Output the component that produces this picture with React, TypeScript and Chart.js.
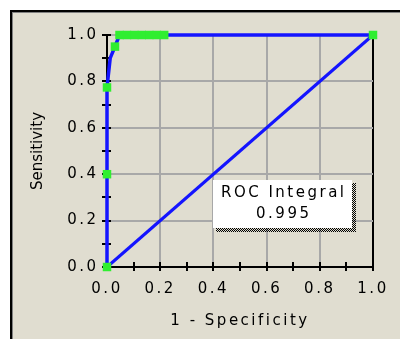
import { useEffect, useRef } from 'react';
import { Chart, registerables } from 'chart.js';

Chart.register(...registerables);

// ROC curve (1 - specificity, sensitivity)
const rocFpr = [0, 0, 0, 0.012, 0.03, 0.047, 0.075, 0.103, 0.131, 0.159, 0.187, 0.215, 1.0];
const rocTpr = [0, 0.4, 0.774, 0.9, 0.95, 1, 1, 1, 1, 1, 1, 1, 1];
const rocMarker = [1, 1, 1, 0, 1, 1, 1, 1, 1, 1, 1, 1, 1];
// chance diagonal
const diagX = [0, 1];
const diagY = [0, 1];
// axis ticks
const axisTicks = [0, 0.2, 0.4, 0.6, 0.8, 1.0];
const minorTicks = [0, 0.1, 0.2, 0.3, 0.4, 0.5, 0.6, 0.7, 0.8, 0.9, 1.0];
const xTitle = '1 - Specificity';
const yTitle = 'Sensitivity';
const rocLabelLines = ['ROC Integral', '0.995'];

const FONT = '"DejaVu Sans", Verdana, sans-serif';
const BEIGE = '#e0ddd0';
const BLUE = '#1414ff';
const GREEN = '#30ee30';
const GRID = '#a8a8a8';

const framePlugin = {
  id: 'frame',
  beforeDraw(chart: any) {
    const { ctx, width, height } = chart;
    ctx.save();
    ctx.fillStyle = '#ffffff';
    ctx.fillRect(0, 0, width, height);
    ctx.fillStyle = BEIGE;
    ctx.fillRect(10, 10, width - 10, height - 10);
    ctx.fillStyle = '#000000';
    ctx.fillRect(10, 10, 2, height - 10);
    ctx.fillRect(10, 10, width - 10, 2);
    ctx.fillStyle = '#808080';
    ctx.fillRect(12, 12, 1, height - 12);
    ctx.fillRect(12, 12, width - 12, 1);
    ctx.restore();
    ctx.letterSpacing = '2.5px';
  },
  beforeDatasetsDraw(chart: any) {
    const { ctx } = chart;
    const xs = chart.scales.x;
    const ys = chart.scales.y;
    const x0 = xs.getPixelForValue(0);
    const y0 = ys.getPixelForValue(0);
    ctx.save();
    ctx.fillStyle = '#000000';
    for (const v of minorTicks) {
      const px = Math.round(xs.getPixelForValue(v));
      ctx.fillRect(px - 1, y0 - 5, 2, 9);
      const py = Math.round(ys.getPixelForValue(v));
      ctx.fillRect(x0 - 5, py - 1, 9, 2);
    }
    ctx.restore();
  },
  afterDraw(chart: any) {
    const { ctx } = chart;
    const xs = chart.scales.x;
    const ys = chart.scales.y;
    const area = chart.chartArea;
    ctx.save();
    // y-axis title (rotated)
    ctx.letterSpacing = '0px';
    ctx.fillStyle = '#000000';
    ctx.font = `15px ${FONT}`;
    ctx.textAlign = 'center';
    ctx.textBaseline = 'middle';
    ctx.translate(38, (area.top + area.bottom) / 2);
    ctx.rotate(-Math.PI / 2);
    ctx.fillText(yTitle, 0, 0);
    ctx.restore();

    // ROC integral box
    const bx0 = Math.round(xs.getPixelForValue(0.4));
    const bx1 = Math.round(xs.getPixelForValue(0.92));
    const by0 = Math.round(ys.getPixelForValue(0.375));
    const by1 = Math.round(ys.getPixelForValue(0.168));
    ctx.save();
    // dotted shadow
    ctx.fillStyle = '#000000';
    for (let yy = by0 + 3; yy < by1 + 4; yy++) {
      for (let xx = bx1; xx < bx1 + 4; xx++) {
        if ((xx + yy) % 2 === 0) ctx.fillRect(xx, yy, 1, 1);
      }
    }
    for (let yy = by1; yy < by1 + 4; yy++) {
      for (let xx = bx0 + 3; xx < bx1; xx++) {
        if ((xx + yy) % 2 === 0) ctx.fillRect(xx, yy, 1, 1);
      }
    }
    ctx.fillStyle = '#ffffff';
    ctx.fillRect(bx0, by0, bx1 - bx0, by1 - by0);
    ctx.fillStyle = '#000000';
    ctx.font = `15px ${FONT}`;
    ctx.letterSpacing = '2.5px';
    ctx.textAlign = 'center';
    ctx.textBaseline = 'middle';
    const cx = (bx0 + bx1) / 2 + 1.25;
    ctx.fillText(rocLabelLines[0], cx, by0 + 13);
    ctx.fillText(rocLabelLines[1], cx, by0 + 34);
    ctx.restore();
  },
};

export default function App() {
  const ref = useRef<HTMLCanvasElement>(null);
  useEffect(() => {
    if (!ref.current) return;
    const chart = new Chart(ref.current, {
      type: 'scatter',
      data: {
        datasets: [
          {
            label: 'ROC',
            data: rocFpr.map((x, i) => ({ x, y: rocTpr[i] })),
            showLine: true,
            borderColor: BLUE,
            borderWidth: 3.5,
            backgroundColor: GREEN,
            pointStyle: 'rect',
            pointRadius: rocMarker.map((m) => (m ? 6 : 0)),
            pointBorderWidth: 0,
            clip: false,
            order: 0,
          } as any,
          {
            label: 'Chance',
            data: diagX.map((x, i) => ({ x, y: diagY[i] })),
            showLine: true,
            borderColor: BLUE,
            borderWidth: 3,
            pointRadius: 0,
            clip: false,
            order: 1,
          } as any,
        ],
      },
      options: {
        animation: false,
        responsive: false,
        events: [],
        layout: { padding: { top: 35, right: 27, left: 0, bottom: 0 } },
        plugins: {
          legend: { display: false },
          tooltip: { enabled: false },
        },
        scales: {
          x: {
            type: 'linear',
            min: 0,
            max: 1,
            afterBuildTicks: (s: any) => {
              s.ticks = axisTicks.map((v) => ({ value: v }));
            },
            afterFit: (s: any) => {
              s.height = 72;
              s.paddingLeft = 0;
              s.paddingRight = 0;
              s.paddingTop = 0;
              s.paddingBottom = 0;
            },
            grid: {
              color: (c: any) => (c.tick && c.tick.value === 1 ? '#000000' : GRID),
              lineWidth: 2,
              drawTicks: false,
            },
            border: { display: true, color: '#000000', width: 2 },
            ticks: {
              color: '#000000',
              font: { family: FONT, size: 15 },
              padding: 13,
              maxRotation: 0,
              autoSkip: false,
              callback: (v: any) => Number(v).toFixed(1),
            },
            title: {
              display: true,
              text: xTitle,
              color: '#000000',
              font: { family: FONT, size: 15 },
              padding: { top: 0, bottom: 9 },
            },
          },
          y: {
            type: 'linear',
            min: 0,
            max: 1,
            afterBuildTicks: (s: any) => {
              s.ticks = axisTicks.map((v) => ({ value: v }));
            },
            afterFit: (s: any) => {
              s.width = 107;
              s.paddingLeft = 0;
              s.paddingRight = 0;
              s.paddingTop = 0;
              s.paddingBottom = 0;
            },
            grid: {
              color: GRID,
              lineWidth: 2,
              drawTicks: false,
            },
            border: { display: true, color: '#000000', width: 2 },
            ticks: {
              color: '#000000',
              font: { family: FONT, size: 15 },
              padding: 8.5,
              autoSkip: false,
              callback: (v: any) => Number(v).toFixed(1),
            },
            title: { display: false },
          },
        },
      } as any,
      plugins: [framePlugin],
    });
    return () => chart.destroy();
  }, []);
  return (
    <div style={{ position: 'absolute', left: 0, top: 0, width: 400, height: 339 }}>
      <canvas ref={ref} width={400} height={339} style={{ display: 'block', width: 400, height: 339 }} />
    </div>
  );
}
